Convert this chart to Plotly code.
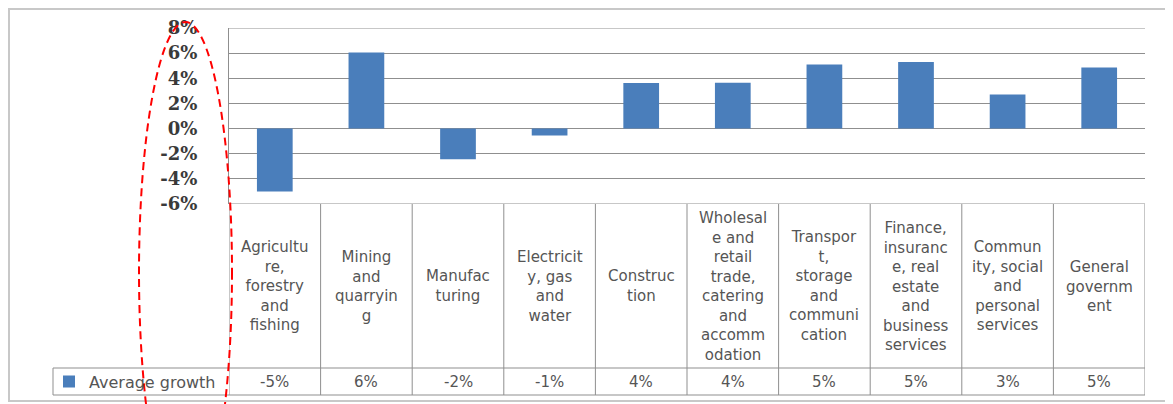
import plotly.graph_objects as go

# ---- data ----
categories = [
    "Agriculture, forestry and fishing",
    "Mining and quarrying",
    "Manufacturing",
    "Electricity, gas and water",
    "Construction",
    "Wholesale and retail trade, catering and accommodation",
    "Transport, storage and communication",
    "Finance, insurance, real estate and business services",
    "Community, social and personal services",
    "General government",
]
wrapped_labels = [
    "Agricultu<br>re,<br>forestry<br>and<br>fishing",
    "Mining<br>and<br>quarryin<br>g",
    "Manufac<br>turing",
    "Electricit<br>y, gas<br>and<br>water",
    "Construc<br>tion",
    "Wholesal<br>e and<br>retail<br>trade,<br>catering<br>and<br>accomm<br>odation",
    "Transpor<br>t,<br>storage<br>and<br>communi<br>cation",
    "Finance,<br>insuranc<br>e, real<br>estate<br>and<br>business<br>services",
    "Commun<br>ity, social<br>and<br>personal<br>services",
    "General<br>governm<br>ent",
]
growth = [-5.0, 6.05, -2.45, -0.55, 3.62, 3.65, 5.1, 5.3, 2.72, 4.85]
series_name = "Average growth"
y_ticks = [-6, -4, -2, 0, 2, 4, 6, 8]

# ---- layout helpers (screen pixels -> paper fractions; page body offsets the figure by 8px) ----
W, H = 1173, 404
OFF = 8
def px_x(x):
    return (x - OFF) / W
def px_y(y):
    return 1 - (y - OFF) / H

PLOT_L, PLOT_R = 229, 1145
PLOT_T, PLOT_B = 28, 204
ROW_T, ROW_B = 368, 395
LEG_L = 53

BAR_COLOR = "#4a7ebb"
GRID = "#8f8f8f"
TXT = "#555555"
SANS = "DejaVu Sans"

fig = go.Figure()
fig.add_trace(go.Bar(
    x=categories, y=growth, name=series_name,
    marker=dict(color=BAR_COLOR, line=dict(width=0)),
    width=0.39, showlegend=True,
))

n = len(categories)
fig.update_layout(
    width=W, height=H,
    margin=dict(l=0, r=0, t=0, b=0, autoexpand=False),
    paper_bgcolor="white", plot_bgcolor="white",
    xaxis=dict(
        domain=[px_x(PLOT_L), px_x(PLOT_R)],
        type="category", range=[-0.5, n - 0.5],
        showticklabels=False, showgrid=False, zeroline=False, showline=False,
        ticks="",
    ),
    yaxis=dict(
        domain=[px_y(PLOT_B), px_y(PLOT_T)],
        range=[y_ticks[0], y_ticks[-1]],
        tickvals=y_ticks, ticktext=[f"{v}%" for v in y_ticks],
        showgrid=True, gridcolor=GRID, gridwidth=1,
        zeroline=False, showline=True, linecolor=GRID, linewidth=1,
        ticks="", ticklabelstandoff=27,
        tickfont=dict(family="DejaVu Serif", size=18, color="#3a3a3a", weight="bold"),
    ),
    showlegend=True,
    legend=dict(
        x=px_x(LEG_L - 4), y=px_y((ROW_T + ROW_B) / 2),
        xanchor="left", yanchor="middle",
        bgcolor="rgba(0,0,0,0)", borderwidth=0,
        font=dict(family=SANS, size=16, color=TXT),
        itemwidth=30,
    ),
)

shapes = []
line_style = dict(color=GRID, width=1)
# table top (coincides with bottom gridline) and top gridline
shapes.append(dict(type="line", xref="x", yref="y", x0=-0.5, x1=n - 0.5,
                   y0=y_ticks[0], y1=y_ticks[0], line=line_style))
shapes.append(dict(type="line", xref="x", yref="y", x0=-0.5, x1=n - 0.5,
                   y0=y_ticks[-1], y1=y_ticks[-1], line=line_style))
# column separators
for i in range(n + 1):
    shapes.append(dict(type="line", xref="x", yref="paper",
                       x0=i - 0.5, x1=i - 0.5, y0=px_y(ROW_B), y1=px_y(PLOT_B),
                       line=line_style))
# value row lines
for yy in (ROW_T, ROW_B):
    shapes.append(dict(type="line", xref="paper", yref="paper",
                       x0=px_x(LEG_L), x1=px_x(PLOT_R), y0=px_y(yy), y1=px_y(yy),
                       line=line_style))
shapes.append(dict(type="line", xref="paper", yref="paper",
                   x0=px_x(LEG_L), x1=px_x(LEG_L), y0=px_y(ROW_B), y1=px_y(ROW_T),
                   line=line_style))
# outer chart border
shapes.append(dict(type="rect", xref="paper", yref="paper",
                   x0=px_x(9), x1=px_x(1200), y0=px_y(401), y1=px_y(9),
                   line=dict(color="#c8c8c8", width=2), layer="below"))
# red dashed ellipse drawn over the axis labels
shapes.append(dict(type="circle", xref="paper", yref="paper",
                   x0=px_x(139), x1=px_x(232), y0=px_y(522), y1=px_y(22),
                   line=dict(color="#ff0000", width=2, dash="8px,5px"),
                   layer="above"))

annotations = []
for cat, lab in zip(categories, wrapped_labels):
    annotations.append(dict(
        x=cat, xref="x", y=px_y((PLOT_B + ROW_T) / 2), yref="paper",
        text=lab, showarrow=False, xanchor="center", yanchor="middle",
        align="center", font=dict(family=SANS, size=15, color=TXT),
    ))
for cat, v in zip(categories, growth):
    annotations.append(dict(
        x=cat, xref="x", y=px_y((ROW_T + ROW_B) / 2), yref="paper",
        text=f"{round(v):.0f}%", showarrow=False, xanchor="center", yanchor="middle",
        font=dict(family=SANS, size=15, color=TXT),
    ))

fig.update_layout(shapes=shapes, annotations=annotations)
fig.write_html("out.html")
